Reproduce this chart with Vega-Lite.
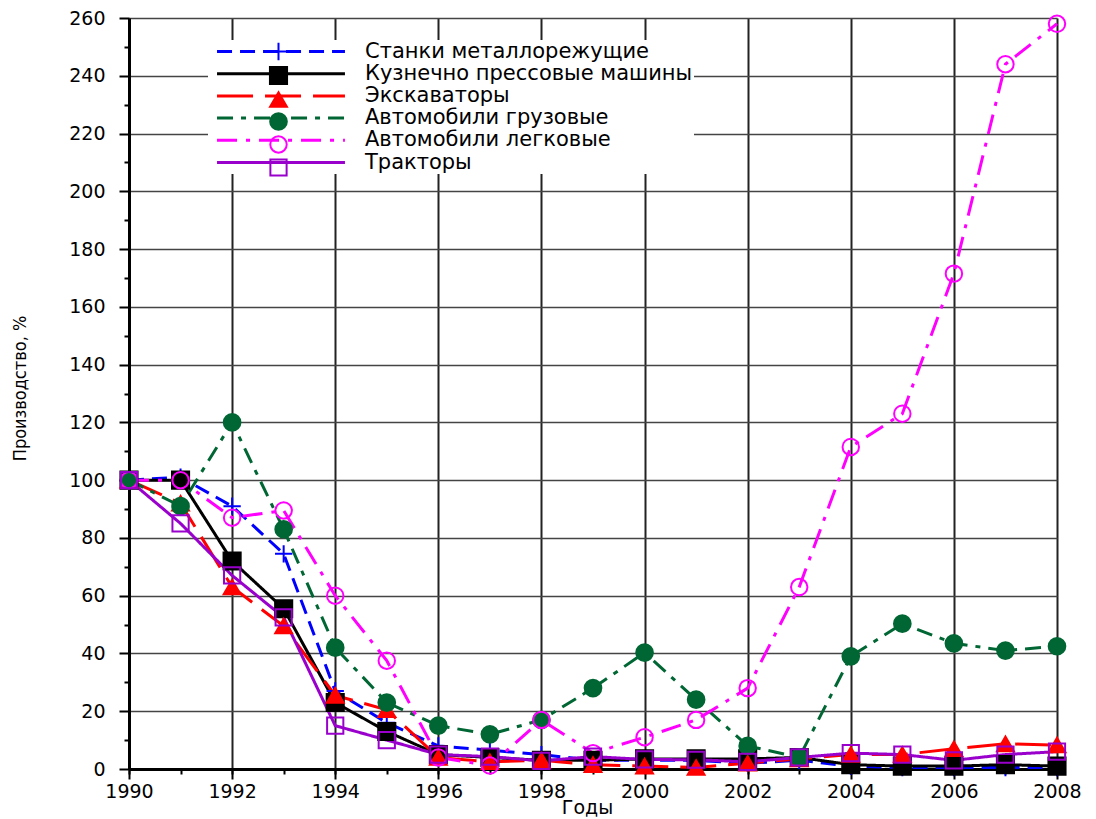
{
  "$schema": "https://vega.github.io/schema/vega-lite/v6.json",
  "width": 928,
  "height": 751,
  "autosize": {"type": "none"},
  "padding": {"left": 129, "top": 18, "right": 39, "bottom": 50},
  "background": "white",
  "config": {"font": "DejaVu Sans", "view": {"stroke": null}},
  "datasets": {
    "prod": [
      {"year": 1990, "series": "Станки металлорежущие", "value": 100},
      {"year": 1991, "series": "Станки металлорежущие", "value": 101},
      {"year": 1992, "series": "Станки металлорежущие", "value": 91},
      {"year": 1993, "series": "Станки металлорежущие", "value": 74.5},
      {"year": 1994, "series": "Станки металлорежущие", "value": 27},
      {"year": 1995, "series": "Станки металлорежущие", "value": 16},
      {"year": 1996, "series": "Станки металлорежущие", "value": 8},
      {"year": 1997, "series": "Станки металлорежущие", "value": 6.5},
      {"year": 1998, "series": "Станки металлорежущие", "value": 5},
      {"year": 1999, "series": "Станки металлорежущие", "value": 3},
      {"year": 2000, "series": "Станки металлорежущие", "value": 3},
      {"year": 2001, "series": "Станки металлорежущие", "value": 3},
      {"year": 2002, "series": "Станки металлорежущие", "value": 2},
      {"year": 2003, "series": "Станки металлорежущие", "value": 3},
      {"year": 2004, "series": "Станки металлорежущие", "value": 1},
      {"year": 2005, "series": "Станки металлорежущие", "value": 0.5},
      {"year": 2006, "series": "Станки металлорежущие", "value": 0.5},
      {"year": 2007, "series": "Станки металлорежущие", "value": 0.5},
      {"year": 2008, "series": "Станки металлорежущие", "value": 0.5},
      {"year": 1990, "series": "Кузнечно прессовые машины", "value": 100},
      {"year": 1991, "series": "Кузнечно прессовые машины", "value": 100},
      {"year": 1992, "series": "Кузнечно прессовые машины", "value": 72},
      {"year": 1993, "series": "Кузнечно прессовые машины", "value": 55.5},
      {"year": 1994, "series": "Кузнечно прессовые машины", "value": 23},
      {"year": 1995, "series": "Кузнечно прессовые машины", "value": 13},
      {"year": 1996, "series": "Кузнечно прессовые машины", "value": 5},
      {"year": 1997, "series": "Кузнечно прессовые машины", "value": 4},
      {"year": 1998, "series": "Кузнечно прессовые машины", "value": 3},
      {"year": 1999, "series": "Кузнечно прессовые машины", "value": 3},
      {"year": 2000, "series": "Кузнечно прессовые машины", "value": 3.5},
      {"year": 2001, "series": "Кузнечно прессовые машины", "value": 3.5},
      {"year": 2002, "series": "Кузнечно прессовые машины", "value": 3.5},
      {"year": 2003, "series": "Кузнечно прессовые машины", "value": 4},
      {"year": 2004, "series": "Кузнечно прессовые машины", "value": 1.5},
      {"year": 2005, "series": "Кузнечно прессовые машины", "value": 1},
      {"year": 2006, "series": "Кузнечно прессовые машины", "value": 1},
      {"year": 2007, "series": "Кузнечно прессовые машины", "value": 1.5},
      {"year": 2008, "series": "Кузнечно прессовые машины", "value": 1},
      {"year": 1990, "series": "Экскаваторы", "value": 100},
      {"year": 1991, "series": "Экскаваторы", "value": 92},
      {"year": 1992, "series": "Экскаваторы", "value": 63},
      {"year": 1993, "series": "Экскаваторы", "value": 49.5},
      {"year": 1994, "series": "Экскаваторы", "value": 25.5},
      {"year": 1995, "series": "Экскаваторы", "value": 20.5},
      {"year": 1996, "series": "Экскаваторы", "value": 4},
      {"year": 1997, "series": "Экскаваторы", "value": 2.5},
      {"year": 1998, "series": "Экскаваторы", "value": 3},
      {"year": 1999, "series": "Экскаваторы", "value": 1.5},
      {"year": 2000, "series": "Экскаваторы", "value": 1},
      {"year": 2001, "series": "Экскаваторы", "value": 0.5},
      {"year": 2002, "series": "Экскаваторы", "value": 2},
      {"year": 2003, "series": "Экскаваторы", "value": 3.5},
      {"year": 2004, "series": "Экскаваторы", "value": 5},
      {"year": 2005, "series": "Экскаваторы", "value": 5},
      {"year": 2006, "series": "Экскаваторы", "value": 7},
      {"year": 2007, "series": "Экскаваторы", "value": 8.7},
      {"year": 2008, "series": "Экскаваторы", "value": 8.3},
      {"year": 1990, "series": "Автомобили грузовые", "value": 100},
      {"year": 1991, "series": "Автомобили грузовые", "value": 91},
      {"year": 1992, "series": "Автомобили грузовые", "value": 120},
      {"year": 1993, "series": "Автомобили грузовые", "value": 83},
      {"year": 1994, "series": "Автомобили грузовые", "value": 42},
      {"year": 1995, "series": "Автомобили грузовые", "value": 23},
      {"year": 1996, "series": "Автомобили грузовые", "value": 15},
      {"year": 1997, "series": "Автомобили грузовые", "value": 12},
      {"year": 1998, "series": "Автомобили грузовые", "value": 17},
      {"year": 1999, "series": "Автомобили грузовые", "value": 28},
      {"year": 2000, "series": "Автомобили грузовые", "value": 40.3},
      {"year": 2001, "series": "Автомобили грузовые", "value": 24},
      {"year": 2002, "series": "Автомобили грузовые", "value": 8},
      {"year": 2003, "series": "Автомобили грузовые", "value": 4},
      {"year": 2004, "series": "Автомобили грузовые", "value": 39},
      {"year": 2005, "series": "Автомобили грузовые", "value": 50.3},
      {"year": 2006, "series": "Автомобили грузовые", "value": 43.5},
      {"year": 2007, "series": "Автомобили грузовые", "value": 41},
      {"year": 2008, "series": "Автомобили грузовые", "value": 42.5},
      {"year": 1990, "series": "Автомобили легковые", "value": 100},
      {"year": 1991, "series": "Автомобили легковые", "value": 100},
      {"year": 1992, "series": "Автомобили легковые", "value": 87},
      {"year": 1993, "series": "Автомобили легковые", "value": 89.5},
      {"year": 1994, "series": "Автомобили легковые", "value": 60},
      {"year": 1995, "series": "Автомобили легковые", "value": 37.5},
      {"year": 1996, "series": "Автомобили легковые", "value": 4},
      {"year": 1997, "series": "Автомобили легковые", "value": 1.2},
      {"year": 1998, "series": "Автомобили легковые", "value": 17},
      {"year": 1999, "series": "Автомобили легковые", "value": 5.5},
      {"year": 2000, "series": "Автомобили легковые", "value": 11},
      {"year": 2001, "series": "Автомобили легковые", "value": 17},
      {"year": 2002, "series": "Автомобили легковые", "value": 28},
      {"year": 2003, "series": "Автомобили легковые", "value": 63},
      {"year": 2004, "series": "Автомобили легковые", "value": 111.5},
      {"year": 2005, "series": "Автомобили легковые", "value": 123},
      {"year": 2006, "series": "Автомобили легковые", "value": 171.5},
      {"year": 2007, "series": "Автомобили легковые", "value": 244},
      {"year": 2008, "series": "Автомобили легковые", "value": 258},
      {"year": 1990, "series": "Тракторы", "value": 100},
      {"year": 1991, "series": "Тракторы", "value": 85},
      {"year": 1992, "series": "Тракторы", "value": 67},
      {"year": 1993, "series": "Тракторы", "value": 52.5},
      {"year": 1994, "series": "Тракторы", "value": 15},
      {"year": 1995, "series": "Тракторы", "value": 10},
      {"year": 1996, "series": "Тракторы", "value": 5},
      {"year": 1997, "series": "Тракторы", "value": 4.3},
      {"year": 1998, "series": "Тракторы", "value": 2.8},
      {"year": 1999, "series": "Тракторы", "value": 4.3},
      {"year": 2000, "series": "Тракторы", "value": 3.3},
      {"year": 2001, "series": "Тракторы", "value": 3.2},
      {"year": 2002, "series": "Тракторы", "value": 2.5},
      {"year": 2003, "series": "Тракторы", "value": 4},
      {"year": 2004, "series": "Тракторы", "value": 5.5},
      {"year": 2005, "series": "Тракторы", "value": 5},
      {"year": 2006, "series": "Тракторы", "value": 3},
      {"year": 2007, "series": "Тракторы", "value": 5},
      {"year": 2008, "series": "Тракторы", "value": 6}
    ]
  },
  "data": {"name": "prod"},
  "layer": [
    {
      "mark": {"type": "line", "strokeWidth": 3},
      "encoding": {
        "x": {
          "field": "year", "type": "quantitative",
          "scale": {"domain": [1990, 2008], "nice": false, "zero": false},
          "axis": {
            "orient": "bottom",
            "values": [1990, 1992, 1994, 1996, 1998, 2000, 2002, 2004, 2006, 2008],
            "format": "d", "title": "Годы", "grid": true, "gridColor": "#222", "gridWidth": 2, "gridOpacity": 1,
            "domainColor": "#000", "domainWidth": 3, "tickColor": "#000", "tickWidth": 2, "tickSize": 10,
            "labelFont": "DejaVu Sans", "labelFontSize": 19, "labelColor": "#000", "labelPadding": 3, "labelFlush": false,
            "titleFont": "DejaVu Sans", "titleFontSize": 19, "titleFontWeight": "normal", "titleColor": "#000",
            "titleX": 458, "titleY": 38, "titleBaseline": "middle"
          }
        },
        "y": {
          "field": "value", "type": "quantitative",
          "scale": {"domain": [0, 260], "nice": false},
          "axis": {
            "orient": "left",
            "values": [0, 20, 40, 60, 80, 100, 120, 140, 160, 180, 200, 220, 240, 260],
            "title": "Производство, %", "grid": true, "gridColor": "#444", "gridWidth": 1.5, "gridOpacity": 1,
            "domainColor": "#000", "domainWidth": 3, "tickColor": "#000", "tickWidth": 2, "tickSize": 10,
            "labelFont": "DejaVu Sans", "labelFontSize": 19, "labelColor": "#000", "labelPadding": 14,
            "titleFont": "DejaVu Sans Condensed, Liberation Sans", "titleFontSize": 18, "titleFontWeight": "normal", "titleColor": "#000",
            "titleX": -109, "titleY": 370, "titleAngle": -90, "titleAlign": "center", "titleBaseline": "middle"
          }
        },
        "color": {
          "field": "series", "type": "nominal",
          "scale": {
            "domain": ["Станки металлорежущие", "Кузнечно прессовые машины", "Экскаваторы", "Автомобили грузовые", "Автомобили легковые", "Тракторы"],
            "range": ["#0000FF", "#000000", "#FF0000", "#006633", "#FF00FF", "#9900CC"]
          },
          "legend": {
            "title": null, "orient": "none", "legendX": 79, "legendY": 22, "padding": 1,
            "fillColor": "white", "strokeColor": null,
            "symbolType": "M-0.29,0H14.76", "symbolSize": 289, "symbolStrokeWidth": 3,
            "labelFont": "DejaVu Sans", "labelFontSize": 21, "labelColor": "#000", "labelOffset": 135, "labelLimit": 700,
            "rowPadding": 0.2, "zindex": 1
          }
        },
        "strokeDash": {
          "field": "series", "type": "nominal",
          "scale": {
            "domain": ["Станки металлорежущие", "Кузнечно прессовые машины", "Экскаваторы", "Автомобили грузовые", "Автомобили легковые", "Тракторы"],
            "range": [[15, 8], [1, 0], [36, 12], [16, 8, 5, 8], [20, 9, 4, 9], [1, 0]]
          }
        }
      }
    },
    {
      "mark": {"type": "point", "opacity": 1, "strokeWidth": 2},
      "encoding": {
        "x": {
          "field": "year", "type": "quantitative",
          "scale": {"domain": [1990, 2008], "nice": false, "zero": false},
          "axis": {
            "orient": "bottom",
            "values": [1990, 1991, 1992, 1993, 1994, 1995, 1996, 1997, 1998, 1999, 2000, 2001, 2002, 2003, 2004, 2005, 2006, 2007, 2008],
            "labels": false, "grid": false, "domain": false, "tickColor": "#000", "tickWidth": 2, "tickSize": 5, "title": null
          }
        },
        "y": {
          "field": "value", "type": "quantitative",
          "scale": {"domain": [0, 260], "nice": false},
          "axis": {
            "orient": "left",
            "values": [10, 30, 50, 70, 90, 110, 130, 150, 170, 190, 210, 230, 250],
            "labels": false, "grid": false, "domain": false, "tickColor": "#000", "tickWidth": 2, "tickSize": 5, "title": null
          }
        },
        "shape": {
          "field": "series", "type": "nominal",
          "scale": {
            "domain": ["Станки металлорежущие", "Кузнечно прессовые машины", "Экскаваторы", "Автомобили грузовые", "Автомобили легковые", "Тракторы", " "],
            "range": ["M-1,0H1M0,-1V1", "square", "triangle-up", "circle", "circle", "square", "circle"]
          },
          "legend": {
            "title": null, "orient": "none", "legendX": 79, "legendY": 22, "padding": 1,
            "symbolStrokeWidth": 2, "symbolOffset": 59,
            "labelFont": "DejaVu Sans", "labelFontSize": 21, "labelOpacity": 0, "labelExpr": "''", "labelOffset": 135, "labelLimit": 700,
            "rowPadding": -5.2, "zindex": 2
          }
        },
        "stroke": {
          "field": "series", "type": "nominal",
          "scale": {
            "domain": ["Станки металлорежущие", "Кузнечно прессовые машины", "Экскаваторы", "Автомобили грузовые", "Автомобили легковые", "Тракторы", " "],
            "range": ["#0000FF", "#000000", "#FF0000", "#006633", "#FF00FF", "#9900CC", "transparent"]
          }
        },
        "fill": {
          "field": "series", "type": "nominal",
          "scale": {
            "domain": ["Станки металлорежущие", "Кузнечно прессовые машины", "Экскаваторы", "Автомобили грузовые", "Автомобили легковые", "Тракторы", " "],
            "range": ["transparent", "#000000", "#FF0000", "#006633", "transparent", "transparent", "transparent"]
          }
        },
        "size": {
          "field": "series", "type": "nominal",
          "scale": {
            "domain": ["Станки металлорежущие", "Кузнечно прессовые машины", "Экскаваторы", "Автомобили грузовые", "Автомобили легковые", "Тракторы", " "],
            "range": [300, 256, 260, 320, 280, 340, 10]
          }
        }
      }
    }
  ],
  "resolve": {"axis": {"x": "independent", "y": "independent"}}
}
